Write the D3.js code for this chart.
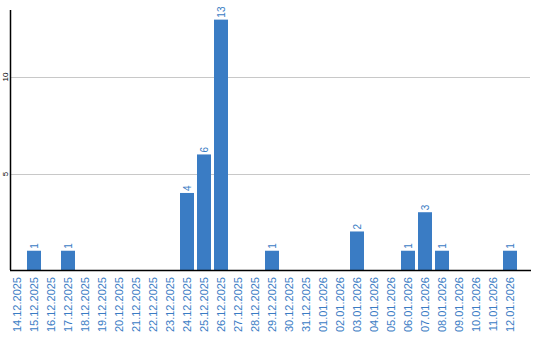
<!DOCTYPE html>
<html><head><meta charset="utf-8">
<script src="https://cdn.jsdelivr.net/npm/d3@7"></script>
<style>body{margin:0;background:#fff}svg{display:block}</style>
</head><body>
<script>
const dates = ["14.12.2025","15.12.2025","16.12.2025","17.12.2025","18.12.2025","19.12.2025","20.12.2025","21.12.2025","22.12.2025","23.12.2025","24.12.2025","25.12.2025","26.12.2025","27.12.2025","28.12.2025","29.12.2025","30.12.2025","31.12.2025","01.01.2026","02.01.2026","03.01.2026","04.01.2026","05.01.2026","06.01.2026","07.01.2026","08.01.2026","09.01.2026","10.01.2026","11.01.2026","12.01.2026"];
const counts = [0,1,0,1,0,0,0,0,0,0,4,6,13,0,0,1,0,0,0,0,2,0,0,1,3,1,0,0,0,1];
const yTicks = [5,10];

const W=540,H=340, mLeft=10, mBottom=270, mTop=10;
const color="#3a7cc4";
const svg=d3.select("body").append("svg").attr("width",W).attr("height",H);
const x=d3.scaleBand().domain(dates).range([mLeft,mLeft+17*dates.length]).padding(0);
const y=d3.scaleLinear().domain([0,13.5]).range([mBottom,mTop]);

// grid
svg.append("g").selectAll("line").data(yTicks).join("line")
  .attr("x1",mLeft).attr("x2",530)
  .attr("y1",d=>Math.round(y(d))+0.5).attr("y2",d=>Math.round(y(d))+0.5)
  .attr("stroke","#c8c8c8").attr("stroke-width",1);

// y tick labels
svg.append("g").selectAll("text").data(yTicks).join("text")
  .attr("transform",d=>`translate(7.5,${Math.round(y(d))}) rotate(-90)`)
  .attr("text-anchor","middle")
  .attr("font-family","Liberation Sans, Arial, sans-serif").attr("font-size",8)
  .attr("fill","#000").text(d=>d);

const bw = x.bandwidth()*14/17;
const items = dates.map((d,i)=>({d,v:counts[i]})).filter(o=>o.v>0);
// bars
svg.append("g").selectAll("rect").data(items).join("rect")
  .attr("x",o=>x(o.d)).attr("width",bw)
  .attr("y",o=>y(o.v)).attr("height",o=>mBottom-y(o.v))
  .attr("fill",color);

// value labels
svg.append("g").selectAll("text").data(items).join("text")
  .attr("transform",o=>`translate(${x(o.d)+bw/2+3.5},${y(o.v)-2}) rotate(-90)`)
  .attr("text-anchor","start")
  .attr("font-family","Liberation Sans, Arial, sans-serif").attr("font-size",10)
  .attr("fill",color).text(o=>o.v);

// x labels
svg.append("g").selectAll("text").data(dates).join("text")
  .attr("transform",d=>`translate(${x(d)+bw/2+4},277) rotate(-90)`)
  .attr("text-anchor","end")
  .attr("font-family","Liberation Sans, Arial, sans-serif").attr("font-size",11)
  .attr("fill",color).text(d=>d);

// axes lines
svg.append("line").attr("x1",10.5).attr("x2",10.5).attr("y1",mTop).attr("y2",mBottom).attr("stroke","#000").attr("stroke-width",1.5);
svg.append("line").attr("x1",10).attr("x2",531).attr("y1",mBottom+0.5).attr("y2",mBottom+0.5).attr("stroke","#000").attr("stroke-width",1.5);
</script>
</body></html>
